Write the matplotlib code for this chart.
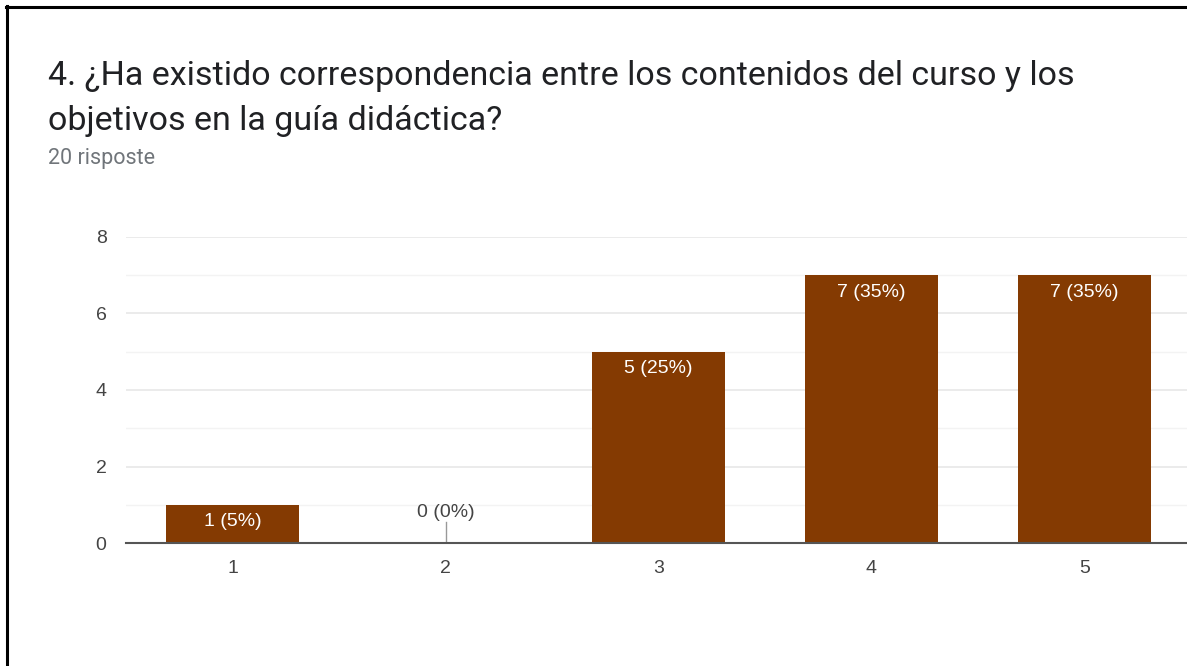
import matplotlib.pyplot as plt
from matplotlib.lines import Line2D

plt.rcParams['font.family'] = ['Roboto', 'DejaVu Sans']
chart_font = ['Liberation Sans', 'DejaVu Sans']

categories = ['1', '2', '3', '4', '5']
counts = [1, 0, 5, 7, 7]
total = 20
bar_color = '#843a02'

W, H = 1187, 666
fig = plt.figure(figsize=(W / 100, H / 100), dpi=100)

# frame lines (top and left edges of the card)
fig.add_artist(Line2D([6 / W, 1.0], [1 - 7 / H, 1 - 7 / H], color='black', lw=2.2))
fig.add_artist(Line2D([7 / W, 7 / W], [0, 1 - 6 / H], color='black', lw=2.2))

fig.text(48 / W, 1 - 85 / H, '4. ¿Ha existido correspondencia entre los contenidos del curso y los',
         fontsize=24.5, color='#202124')
fig.text(48 / W, 1 - 130 / H, 'objetivos en la guía didáctica?', fontsize=24.5, color='#202124')
fig.text(48 / W, 1 - 164 / H, f'{total} risposte', fontsize=15.5, color='#70757a')

left, right, bottom, top = 126, 1191, 543, 237
ax = fig.add_axes([left / W, 1 - bottom / H, (right - left) / W, (bottom - top) / H])
x = list(range(1, len(categories) + 1))
ax.bar(x, counts, width=0.625, color=bar_color, zorder=3)
ax.set_xlim(0.5, len(categories) + 0.5)
ax.set_ylim(0, 8)
ax.set_yticks([0, 2, 4, 6, 8])
ax.set_yticks([1, 3, 5, 7], minor=True)
ax.set_xticks(x)
ax.set_xticklabels(categories)
ax.grid(axis='y', which='major', color='#e8e8e8', lw=1.2, zorder=0)
ax.grid(axis='y', which='minor', color='#f3f3f3', lw=1.0, zorder=0)
ax.tick_params(axis='both', which='both', length=0, labelsize=14, labelcolor='#444444')
ax.tick_params(axis='x', pad=12)
ax.tick_params(axis='y', pad=14)
for lbl in ax.get_xticklabels() + ax.get_yticklabels():
    lbl.set_family(chart_font)
for s in ['top', 'right', 'left']:
    ax.spines[s].set_visible(False)
ax.spines['bottom'].set_color('#555555')
ax.spines['bottom'].set_linewidth(1.5)
ax.spines['bottom'].set_zorder(4)

for xi, c in zip(x, counts):
    label = f'{c} ({c / total * 100:.0f}%)'
    if c > 0:
        ax.annotate(label, (xi, c), xytext=(0, -6), textcoords='offset points',
                    ha='center', va='top', color='white', fontsize=14,
                    family=chart_font, zorder=5)
    else:
        ax.plot([xi, xi], [0, 0.55], color='#999999', lw=1, zorder=4)
        ax.text(xi, 0.58, label, ha='center', va='bottom', color='#444444', fontsize=14,
                family=chart_font, zorder=5)

fig.savefig('out.png', dpi=100)
